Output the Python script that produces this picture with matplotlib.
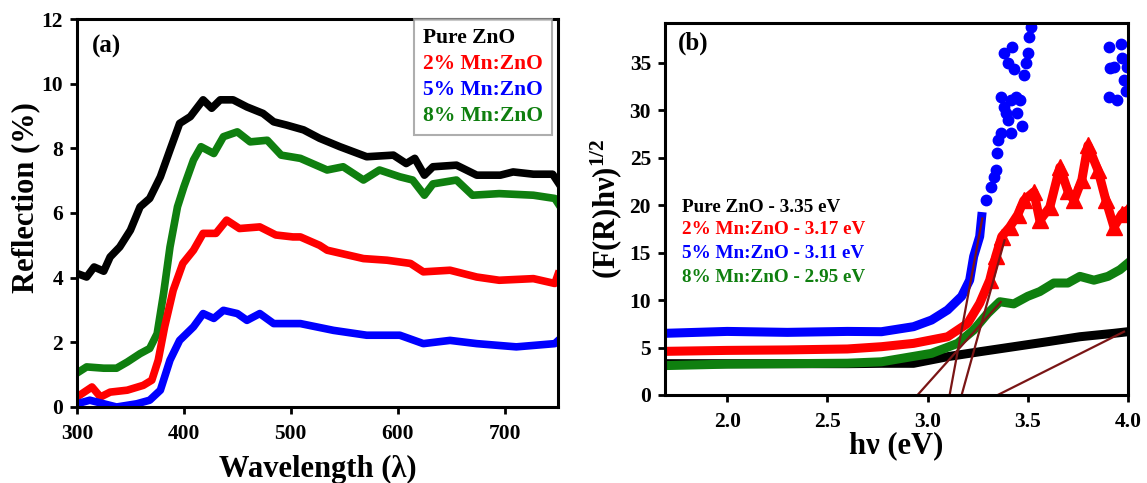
import matplotlib
matplotlib.use("Agg")
import matplotlib.pyplot as plt
from matplotlib.lines import Line2D

plt.rcParams["font.family"] = ["Liberation Serif", "DejaVu Serif"]
plt.rcParams["font.weight"] = "bold"
plt.rcParams["mathtext.fontset"] = "custom"
plt.rcParams["mathtext.rm"] = "Liberation Serif:bold"
plt.rcParams["mathtext.it"] = "Liberation Serif:bold"
plt.rcParams["mathtext.bf"] = "Liberation Serif:bold"

BLACK = "#000000"
RED = "#ff0000"
BLUE = "#0000ff"
GREEN = "#0f7f0f"
TANGENT = "#7a1515"

labels = ["Pure ZnO", "2% Mn:ZnO", "5% Mn:ZnO", "8% Mn:ZnO"]
gaps = [3.35, 3.17, 3.11, 2.95]

# ---- panel (a): reflection vs wavelength ----
wl_black = [300, 309, 316, 325, 331, 340, 350, 359, 368, 378, 387, 396, 406, 418, 426, 434,
            446, 459, 474, 484, 496, 512, 527, 546, 571, 596, 608, 616, 625, 633, 655, 674,
            696, 708, 727, 745, 750]
r_black = [4.13, 4.02, 4.33, 4.2, 4.64, 4.95, 5.47, 6.19, 6.45, 7.12, 7.95, 8.77, 8.98, 9.5, 9.24, 9.5,
           9.5, 9.28, 9.08, 8.82, 8.72, 8.57, 8.31, 8.05, 7.74, 7.79, 7.53, 7.69, 7.17, 7.43, 7.48, 7.17,
           7.17, 7.27, 7.2, 7.2, 6.95]

wl_green = [300, 309, 325, 337, 347, 359, 368, 375, 381, 387, 394, 400, 409, 416, 428, 437, 450,
            462, 478, 491, 509, 534, 549, 568, 583, 602, 614, 625, 633, 655, 670, 695, 727, 747, 750]
r_green = [1.05, 1.24, 1.2, 1.2, 1.39, 1.65, 1.81, 2.27, 3.51, 4.95, 6.19, 6.81, 7.64, 8.05, 7.84, 8.36, 8.51,
           8.2, 8.25, 7.79, 7.69, 7.33, 7.43, 7.02, 7.33, 7.12, 7.02, 6.55, 6.9, 7.02, 6.55, 6.6, 6.55, 6.45, 6.3]

wl_red = [300, 314, 322, 331, 347, 362, 370, 376, 382, 390, 399, 409, 418, 430, 440, 452, 471,
          486, 502, 509, 527, 534, 568, 590, 612, 624, 649, 674, 695, 727, 747, 750]
r_red = [0.31, 0.62, 0.31, 0.46, 0.52, 0.67, 0.83, 1.45, 2.48, 3.61, 4.44, 4.85, 5.37, 5.37, 5.78, 5.52, 5.57,
         5.32, 5.26, 5.26, 5.0, 4.85, 4.59, 4.54, 4.44, 4.18, 4.23, 4.02, 3.92, 3.97, 3.82, 4.1]

wl_blue = [300, 312, 325, 337, 356, 368, 378, 387, 396, 409, 418, 428, 437, 450, 459, 471, 484,
           502, 509, 540, 571, 602, 624, 649, 674, 711, 747, 750]
r_blue = [0.1, 0.21, 0.1, 0.0, 0.1, 0.21, 0.52, 1.45, 2.06, 2.48, 2.89, 2.74, 2.99, 2.89, 2.68, 2.89, 2.58,
          2.58, 2.58, 2.37, 2.22, 2.22, 1.96, 2.06, 1.96, 1.86, 1.96, 2.05]

# ---- panel (b): (F(R)hv)^1/2 vs photon energy ----
ev_black = [1.69, 2.2, 2.6, 2.77, 2.93, 3.1, 3.26, 3.43, 3.6, 3.76, 3.93, 4.0]
f_black = [3.3, 3.3, 3.3, 3.34, 3.34, 4.04, 4.56, 5.09, 5.62, 6.14, 6.5, 6.67]

ev_green = [1.69, 2.0, 2.3, 2.6, 2.77, 3.02, 3.15, 3.23, 3.3, 3.36, 3.43, 3.5, 3.56, 3.63, 3.7,
            3.76, 3.83, 3.9, 3.96, 4.0]
f_green = [3.1, 3.25, 3.3, 3.35, 3.5, 4.39, 5.44, 6.85, 8.6, 9.83, 9.6, 10.4, 10.9, 11.8, 11.8,
           12.5, 12.1, 12.5, 13.2, 13.9]

ev_red = [1.69, 2.0, 2.3, 2.6, 2.77, 2.93, 3.1, 3.2, 3.26, 3.31, 3.34, 3.37, 3.41, 3.45, 3.48, 3.53,
          3.56, 3.61, 3.66, 3.7, 3.73, 3.77, 3.8, 3.85, 3.89, 3.93, 3.97, 4.0]
f_red = [4.6, 4.7, 4.75, 4.85, 5.09, 5.44, 6.14, 7.55, 9.66, 12.1, 14.6, 16.7, 17.7, 19.0, 20.5, 21.4,
         18.4, 19.8, 24.0, 21.5, 20.5, 22.7, 26.3, 23.7, 20.5, 17.7, 19.1, 19.5]

ev_blue = [1.69, 2.0, 2.3, 2.6, 2.77, 2.93, 3.02, 3.1, 3.17, 3.21, 3.23, 3.26, 3.27]
f_blue = [6.5, 6.7, 6.6, 6.7, 6.67, 7.2, 7.9, 8.96, 10.4, 12.1, 14.6, 16.7, 18.8]

ev_blue_pts = [3.29, 3.315, 3.33, 3.34, 3.347, 3.35, 3.364, 3.364, 3.38, 3.38, 3.39, 3.40, 3.40,
               3.414, 3.414, 3.42, 3.43, 3.44, 3.448, 3.46, 3.47, 3.48, 3.49, 3.50, 3.505, 3.514,
               3.905, 3.91, 3.905, 3.93, 3.947, 3.963, 3.97, 3.98, 3.99, 3.996]
f_blue_pts = [20.5, 21.9, 23.0, 23.7, 25.5, 26.9, 27.6, 31.4, 30.4, 36.0, 29.7, 35.0, 29.0,
              27.6, 31.1, 36.7, 34.4, 31.4, 29.7, 31.1, 28.3, 33.7, 35.0, 36.0, 37.7, 38.8,
              36.7, 34.5, 31.4, 34.6, 31.1, 37.0, 35.5, 33.2, 32.0, 34.6]

# tangent lines: (x0, y0, x1, y1)
tan_black = (3.35, 0, 3.98, 6.67)
tan_red = (3.17, 0, 3.384, 16.3)
tan_blue = (3.11, 0, 3.273, 18.6)
tan_green = (2.95, 0, 3.365, 9.8)

fig = plt.figure(figsize=(11.47, 4.83), dpi=100)
ax1 = fig.add_axes([77 / 1147, 1 - 407 / 483, (558 - 77) / 1147, (407 - 19) / 483])
ax2 = fig.add_axes([665 / 1147, 1 - 395 / 483, (1128 - 665) / 1147, (395 - 23) / 483])

lw = 5.5
ax1.plot(wl_black, r_black, color=BLACK, lw=lw)
ax1.plot(wl_green, r_green, color=GREEN, lw=lw)
ax1.plot(wl_red, r_red, color=RED, lw=lw)
ax1.plot(wl_blue, r_blue, color=BLUE, lw=lw)
ax1.set_xlim(300, 750)
ax1.set_ylim(0, 12)
ax1.set_xticks([300, 400, 500, 600, 700])
ax1.set_yticks([0, 2, 4, 6, 8, 10, 12])
ax1.set_xlabel("Wavelength (λ)", fontsize=22, fontweight="bold", labelpad=8)
ax1.set_ylabel("Reflection (%)", fontsize=22, fontweight="bold")
ax1.yaxis.set_label_coords(-0.077, 0.541)
ax1.text(0.031, 0.928, "(a)", transform=ax1.transAxes, fontsize=18, fontweight="bold", va="center")

handles = [Line2D([], [], linestyle="none") for _ in labels]
leg = ax1.legend(handles, labels, loc="upper right", bbox_to_anchor=(0.987, 1.0),
                 handlelength=0, handletextpad=0,
                 labelcolor=[BLACK, RED, BLUE, GREEN], labelspacing=0.28,
                 fancybox=False, borderaxespad=0.0, borderpad=0.42,
                 prop={"weight": "bold", "size": 15.5})
leg.get_frame().set_edgecolor("#9a9a9a")
leg.get_frame().set_linewidth(1.5)

ax2.plot(ev_black, f_black, color=BLACK, lw=6.5)
ax2.plot(ev_red, f_red, color=RED, lw=6.5)
ax2.plot([x for x in ev_red if x > 3.3], [y for x, y in zip(ev_red, f_red) if x > 3.3],
         "^", color=RED, ms=11, lw=0)
ax2.plot(ev_blue, f_blue, color=BLUE, lw=6.5)
ax2.plot(ev_blue_pts, f_blue_pts, "o", color=BLUE, ms=7.5, lw=0)
ax2.plot(ev_green, f_green, color=GREEN, lw=6.5)
for t in [tan_black, tan_red, tan_blue, tan_green]:
    ax2.plot([t[0], t[2]], [t[1], t[3]], color=TANGENT, lw=1.6)

ax2.set_xlim(1.69, 4.0)
ax2.set_ylim(0, 39.2)
ax2.set_xticks([2.0, 2.5, 3.0, 3.5, 4.0])
ax2.set_xticklabels(["2.0", "2.5", "3.0", "3.5", "4.0"])
ax2.set_yticks([0, 5, 10, 15, 20, 25, 30, 35])
ax2.set_xlabel("hν (eV)", fontsize=22, fontweight="bold", labelpad=0)
ax2.set_ylabel("(F(R)hν)$^{1/2}$", fontsize=22, fontweight="bold", labelpad=4)
ax2.text(0.028, 0.946, "(b)", transform=ax2.transAxes, fontsize=18, fontweight="bold", va="center")

ys = [19.8, 17.4, 14.9, 12.4]
for lab, g, c, y in zip(labels, gaps, [BLACK, RED, BLUE, GREEN], ys):
    ax2.text(1.775, y, f"{lab} - {g:.2f} eV", color=c, fontsize=13.8, fontweight="bold", va="center")

for ax in (ax1, ax2):
    for s in ax.spines.values():
        s.set_linewidth(2.2)
    ax.tick_params(direction="out", length=5, width=2, labelsize=15.5)
    ax.tick_params(axis="x", pad=7)
    ax.tick_params(axis="y", pad=5)
    for lab in ax.get_xticklabels() + ax.get_yticklabels():
        lab.set_fontweight("bold")

fig.savefig("out.png", dpi=100)
